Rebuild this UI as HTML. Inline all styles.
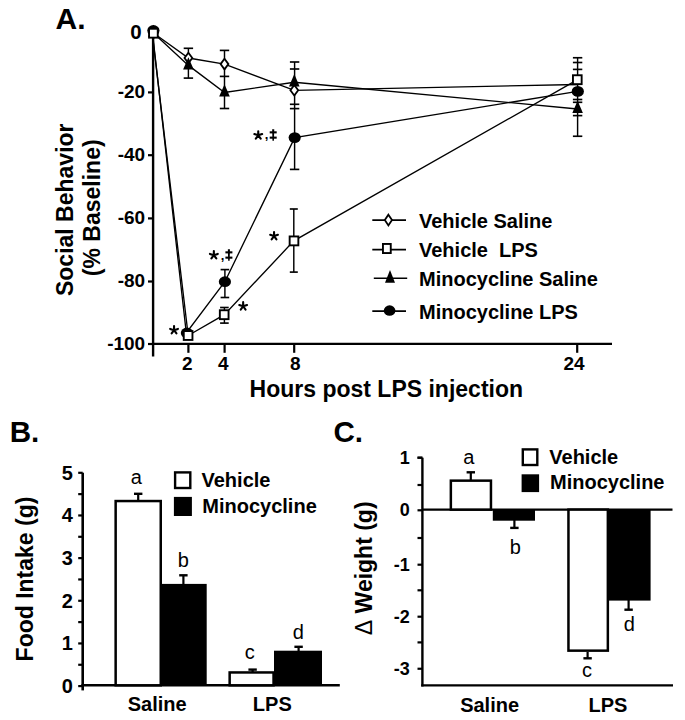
<!DOCTYPE html>
<html><head><meta charset="utf-8"><style>
html,body{margin:0;padding:0;background:#fff;}
svg{display:block;}
text{font-family:"Liberation Sans",sans-serif;fill:#000;}
</style></head><body>
<svg width="685" height="720" viewBox="0 0 685 720" stroke="#000" fill="#000">
<rect x="0" y="0" width="685" height="720" fill="#fff" stroke="none"/>
<g stroke="#000">
<text stroke="none" x="55.5" y="29" font-size="30" font-weight="bold" text-anchor="start" >A.</text>
<line x1="153.1" y1="30" x2="153.1" y2="356.5" stroke-width="2.4"/>
<line x1="151.9" y1="343.8" x2="612" y2="343.8" stroke-width="2.2"/>
<line x1="148" y1="92.4" x2="153.1" y2="92.4" stroke-width="2.2"/>
<text stroke="none" x="145.2" y="98.0" font-size="19" font-weight="bold" text-anchor="end" >-20</text>
<line x1="148" y1="155.2" x2="153.1" y2="155.2" stroke-width="2.2"/>
<text stroke="none" x="145.2" y="160.79999999999998" font-size="19" font-weight="bold" text-anchor="end" >-40</text>
<line x1="148" y1="218.4" x2="153.1" y2="218.4" stroke-width="2.2"/>
<text stroke="none" x="145.2" y="224.0" font-size="19" font-weight="bold" text-anchor="end" >-60</text>
<line x1="148" y1="281.5" x2="153.1" y2="281.5" stroke-width="2.2"/>
<text stroke="none" x="145.2" y="287.1" font-size="19" font-weight="bold" text-anchor="end" >-80</text>
<line x1="148" y1="344" x2="153.1" y2="344" stroke-width="2.2"/>
<text stroke="none" x="145.2" y="349.6" font-size="19" font-weight="bold" text-anchor="end" >-100</text>
<text stroke="none" x="141.6" y="39.2" font-size="20.5" font-weight="bold" text-anchor="end" >0</text>
<line x1="188.4" y1="343.8" x2="188.4" y2="352.8" stroke-width="2.2"/>
<text stroke="none" x="187.4" y="370.4" font-size="19" font-weight="bold" text-anchor="middle" >2</text>
<line x1="224.6" y1="343.8" x2="224.6" y2="352.8" stroke-width="2.2"/>
<text stroke="none" x="223.3" y="370.4" font-size="19" font-weight="bold" text-anchor="middle" >4</text>
<line x1="294.2" y1="343.8" x2="294.2" y2="352.8" stroke-width="2.2"/>
<text stroke="none" x="295.2" y="370.4" font-size="19" font-weight="bold" text-anchor="middle" >8</text>
<line x1="577.2" y1="343.8" x2="577.2" y2="352.8" stroke-width="2.2"/>
<text stroke="none" x="574.0" y="370.4" font-size="19" font-weight="bold" text-anchor="middle" >24</text>
<text stroke="none" x="386.3" y="396.7" font-size="23" font-weight="bold" text-anchor="middle" >Hours post LPS injection</text>
<text stroke="none" transform="translate(72.6,209.75) rotate(-90)" font-size="23" font-weight="bold" text-anchor="middle">Social Behavior</text>
<text stroke="none" transform="translate(99.8,207.8) rotate(-90)" font-size="23" font-weight="bold" text-anchor="middle">(% Baseline)</text>
<line x1="188.4" y1="48.3" x2="188.4" y2="78.1" stroke-width="1.45"/>
<line x1="183.70000000000002" y1="48.3" x2="193.1" y2="48.3" stroke-width="1.65"/>
<line x1="183.70000000000002" y1="78.1" x2="193.1" y2="78.1" stroke-width="1.65"/>
<line x1="224.5" y1="50.4" x2="224.5" y2="108.5" stroke-width="1.45"/>
<line x1="219.8" y1="50.4" x2="229.2" y2="50.4" stroke-width="1.65"/>
<line x1="219.8" y1="76.4" x2="229.2" y2="76.4" stroke-width="1.65"/>
<line x1="219.8" y1="108.5" x2="229.2" y2="108.5" stroke-width="1.65"/>
<line x1="224.9" y1="269.6" x2="224.9" y2="297.5" stroke-width="1.45"/>
<line x1="220.6" y1="269.6" x2="229.20000000000002" y2="269.6" stroke-width="1.65"/>
<line x1="220.6" y1="297.5" x2="229.20000000000002" y2="297.5" stroke-width="1.65"/>
<line x1="224.4" y1="307.5" x2="224.4" y2="323.1" stroke-width="1.45"/>
<line x1="220.1" y1="307.5" x2="228.70000000000002" y2="307.5" stroke-width="1.65"/>
<line x1="220.1" y1="323.1" x2="228.70000000000002" y2="323.1" stroke-width="1.65"/>
<line x1="294.6" y1="62" x2="294.6" y2="169.4" stroke-width="1.45"/>
<line x1="289.90000000000003" y1="62" x2="299.3" y2="62" stroke-width="1.65"/>
<line x1="289.90000000000003" y1="69" x2="299.3" y2="69" stroke-width="1.65"/>
<line x1="289.90000000000003" y1="104.3" x2="299.3" y2="104.3" stroke-width="1.65"/>
<line x1="289.90000000000003" y1="108.6" x2="299.3" y2="108.6" stroke-width="1.65"/>
<line x1="289.90000000000003" y1="169.4" x2="299.3" y2="169.4" stroke-width="1.65"/>
<line x1="293.8" y1="209" x2="293.8" y2="272.1" stroke-width="1.45"/>
<line x1="289.8" y1="209" x2="297.8" y2="209" stroke-width="1.65"/>
<line x1="289.8" y1="272.1" x2="297.8" y2="272.1" stroke-width="1.65"/>
<line x1="577.6" y1="57.75" x2="577.6" y2="136.25" stroke-width="1.45"/>
<line x1="572.9" y1="57.75" x2="582.3000000000001" y2="57.75" stroke-width="1.65"/>
<line x1="572.9" y1="62.5" x2="582.3000000000001" y2="62.5" stroke-width="1.65"/>
<line x1="572.9" y1="69.4" x2="582.3000000000001" y2="69.4" stroke-width="1.65"/>
<line x1="572.9" y1="99.5" x2="582.3000000000001" y2="99.5" stroke-width="1.65"/>
<line x1="572.9" y1="102.3" x2="582.3000000000001" y2="102.3" stroke-width="1.65"/>
<line x1="572.9" y1="115.6" x2="582.3000000000001" y2="115.6" stroke-width="1.65"/>
<line x1="572.9" y1="136.25" x2="582.3000000000001" y2="136.25" stroke-width="1.65"/>
<polyline points="153.4,33 188.4,58 224.5,64.1 294.3,90.3 577.6,84.5" fill="none" stroke-width="1.35"/>
<polyline points="152.2,33.2 188.2,335.5 224.4,314.7 293.8,240.9 577.6,79.7" fill="none" stroke-width="1.35"/>
<polyline points="153.4,33 188.4,65.4 224.5,92.5 294.3,82.3 577.6,109" fill="none" stroke-width="1.35"/>
<polyline points="152.2,30.5 186.3,333 224.9,281.7 294.7,137.6 577.6,91.4" fill="none" stroke-width="1.35"/>
<ellipse cx="153.4" cy="30.5" rx="6.1" ry="5.4" stroke="none"/>
<ellipse cx="186.9" cy="333" rx="6.1" ry="5.4" stroke="none"/>
<ellipse cx="224.9" cy="281.7" rx="6.1" ry="5.4" stroke="none"/>
<ellipse cx="294.7" cy="137.6" rx="6.1" ry="5.4" stroke="none"/>
<ellipse cx="577.8" cy="91.4" rx="6.1" ry="5.4" stroke="none"/>
<polygon points="153.4,27.7 157.3,33 153.4,38.3 149.5,33" fill="#fff" stroke-width="1.8"/>
<polygon points="188.4,52.7 192.3,58 188.4,63.3 184.5,58" fill="#fff" stroke-width="1.8"/>
<polygon points="224.5,58.8 228.4,64.1 224.5,69.39999999999999 220.6,64.1" fill="#fff" stroke-width="1.8"/>
<polygon points="294.3,85.0 298.2,90.3 294.3,95.6 290.40000000000003,90.3" fill="#fff" stroke-width="1.8"/>
<polygon points="153.4,24.80 158.70000000000002,37.10 148.1,37.10" stroke="none"/>
<polygon points="188.4,57.20 193.70000000000002,69.50 183.1,69.50" stroke="none"/>
<polygon points="224.5,84.30 229.8,96.60 219.2,96.60" stroke="none"/>
<polygon points="294.3,74.10 299.6,86.40 289.0,86.40" stroke="none"/>
<polygon points="577.6,100.80 582.9,113.10 572.3000000000001,113.10" stroke="none"/>
<rect x="149.05" y="28.750000000000004" width="8.7" height="8.9" fill="#fff" stroke-width="1.9"/>
<rect x="183.75" y="331.05" width="8.7" height="8.9" fill="#fff" stroke-width="1.9"/>
<rect x="219.85" y="310.25" width="8.7" height="8.9" fill="#fff" stroke-width="1.9"/>
<rect x="289.65" y="236.45000000000002" width="8.7" height="8.9" fill="#fff" stroke-width="1.9"/>
<rect x="572.95" y="75.25" width="8.7" height="8.9" fill="#fff" stroke-width="1.9"/>
<path d="M174.05,330.15L174.05,326.05M174.05,330.15L177.95,328.88M174.05,330.15L176.46,333.47M174.05,330.15L171.64,333.47M174.05,330.15L170.15,328.88" stroke-width="2.1" stroke-linecap="round" fill="none"/>
<path d="M243.15,306.25L243.15,302.15M243.15,306.25L247.05,304.98M243.15,306.25L245.56,309.57M243.15,306.25L240.74,309.57M243.15,306.25L239.25,304.98" stroke-width="2.1" stroke-linecap="round" fill="none"/>
<path d="M274.05,236.05L274.05,231.95M274.05,236.05L277.95,234.78M274.05,236.05L276.46,239.37M274.05,236.05L271.64,239.37M274.05,236.05L270.15,234.78" stroke-width="2.1" stroke-linecap="round" fill="none"/>
<path d="M213.85,255.15L213.85,251.05M213.85,255.15L217.75,253.88M213.85,255.15L216.26,258.47M213.85,255.15L211.44,258.47M213.85,255.15L209.95,253.88" stroke-width="2.1" stroke-linecap="round" fill="none"/>
<text stroke="none" x="220.70" y="259.70" font-size="13" font-weight="bold">,</text>
<path d="M227.85,249.2 h2.1 l-0.3,11.6 h-1.5 z" stroke="none"/>
<rect x="225.4" y="251.29999999999998" width="7" height="2.1" stroke="none"/>
<rect x="225.4" y="256.59999999999997" width="7" height="2.1" stroke="none"/>
<path d="M258.25,135.35L258.25,131.25M258.25,135.35L262.15,134.08M258.25,135.35L260.66,138.67M258.25,135.35L255.84,138.67M258.25,135.35L254.35,134.08" stroke-width="2.1" stroke-linecap="round" fill="none"/>
<text stroke="none" x="264.80" y="138.80" font-size="13" font-weight="bold">,</text>
<path d="M272.15,129.2 h2.1 l-0.3,11.6 h-1.5 z" stroke="none"/>
<rect x="269.7" y="131.29999999999998" width="7" height="2.1" stroke="none"/>
<rect x="269.7" y="136.6" width="7" height="2.1" stroke="none"/>
<line x1="372.3" y1="220.1" x2="406" y2="220.1" stroke-width="1.6"/>
<polygon points="388.4,214.7 392.0,220.1 388.4,225.5 384.79999999999995,220.1" fill="#fff" stroke-width="1.8"/>
<text stroke="none" x="419.0" y="227.7" font-size="20" font-weight="bold" text-anchor="start" >Vehicle Saline</text>
<line x1="372.3" y1="249.6" x2="406" y2="249.6" stroke-width="1.6"/>
<rect x="382.95000000000005" y="243.95" width="7.8" height="9.1" fill="#fff" stroke-width="1.9"/>
<text stroke="none" x="419.0" y="256.9" font-size="20" font-weight="bold" text-anchor="start" >Vehicle&#160; LPS</text>
<line x1="373.8" y1="278.2" x2="407.2" y2="278.2" stroke-width="1.6"/>
<polygon points="390,269.93 395.0,282.63 385.0,282.63" stroke="none"/>
<text stroke="none" x="419.0" y="286.0" font-size="20" font-weight="bold" text-anchor="start" >Minocycline Saline</text>
<line x1="372.3" y1="311.1" x2="406" y2="311.1" stroke-width="1.6"/>
<ellipse cx="389.6" cy="310.6" rx="5.85" ry="5.25" stroke="none"/>
<text stroke="none" x="419.0" y="319.1" font-size="20" font-weight="bold" text-anchor="start" >Minocycline LPS</text>
<text stroke="none" x="9.7" y="442.3" font-size="29.6" font-weight="bold" text-anchor="start" >B.</text>
<line x1="82.7" y1="472.7" x2="82.7" y2="690.4" stroke-width="2.6"/>
<line x1="81.4" y1="685.3" x2="339.8" y2="685.3" stroke-width="2.4"/>
<line x1="78.2" y1="686.1" x2="82.7" y2="686.1" stroke-width="2.2"/>
<text stroke="none" x="72.8" y="693.0" font-size="20" font-weight="bold" text-anchor="end" >0</text>
<line x1="78.2" y1="664.77" x2="82.7" y2="664.77" stroke-width="2.2"/>
<line x1="78.2" y1="643.44" x2="82.7" y2="643.44" stroke-width="2.2"/>
<text stroke="none" x="72.8" y="650.34" font-size="20" font-weight="bold" text-anchor="end" >1</text>
<line x1="78.2" y1="622.11" x2="82.7" y2="622.11" stroke-width="2.2"/>
<line x1="78.2" y1="600.78" x2="82.7" y2="600.78" stroke-width="2.2"/>
<text stroke="none" x="72.8" y="607.68" font-size="20" font-weight="bold" text-anchor="end" >2</text>
<line x1="78.2" y1="579.45" x2="82.7" y2="579.45" stroke-width="2.2"/>
<line x1="78.2" y1="558.12" x2="82.7" y2="558.12" stroke-width="2.2"/>
<text stroke="none" x="72.8" y="565.02" font-size="20" font-weight="bold" text-anchor="end" >3</text>
<line x1="78.2" y1="536.79" x2="82.7" y2="536.79" stroke-width="2.2"/>
<line x1="78.2" y1="515.46" x2="82.7" y2="515.46" stroke-width="2.2"/>
<text stroke="none" x="72.8" y="522.36" font-size="20" font-weight="bold" text-anchor="end" >4</text>
<line x1="78.2" y1="494.13000000000005" x2="82.7" y2="494.13000000000005" stroke-width="2.2"/>
<line x1="78.2" y1="472.80000000000007" x2="82.7" y2="472.80000000000007" stroke-width="2.2"/>
<text stroke="none" x="72.8" y="479.70000000000005" font-size="20" font-weight="bold" text-anchor="end" >5</text>
<text stroke="none" transform="translate(33.0,579.0) rotate(-90)" font-size="23" font-weight="bold" text-anchor="middle">Food Intake (g)</text>
<line x1="138.2" y1="493.8" x2="138.2" y2="501" stroke-width="2.2"/>
<line x1="134.0" y1="493.8" x2="142.39999999999998" y2="493.8" stroke-width="2.4"/>
<rect x="115.65" y="501.05" width="45.099999999999994" height="184.24999999999994" fill="#fff" stroke-width="2.5"/>
<line x1="183.4" y1="575.3" x2="183.4" y2="584.5" stroke-width="2.2"/>
<line x1="179.20000000000002" y1="575.3" x2="187.6" y2="575.3" stroke-width="2.4"/>
<rect x="160.5" y="583.9" width="46.19999999999999" height="101.39999999999998" stroke="none"/>
<line x1="252.6" y1="669.6" x2="252.6" y2="672" stroke-width="2.2"/>
<line x1="248.4" y1="669.6" x2="256.8" y2="669.6" stroke-width="2.4"/>
<rect x="229.65" y="672.45" width="43.900000000000006" height="12.849999999999909" fill="#fff" stroke-width="2.5"/>
<line x1="298.6" y1="646.8" x2="298.6" y2="651" stroke-width="2.2"/>
<line x1="294.40000000000003" y1="646.8" x2="302.8" y2="646.8" stroke-width="2.4"/>
<rect x="274.0" y="650.7" width="48.0" height="34.59999999999991" stroke="none"/>
<text stroke="none" x="130.75" y="483.85" font-size="20" font-weight="normal">a</text>
<text stroke="none" x="177.85" y="567.30" font-size="20" font-weight="normal">b</text>
<text stroke="none" x="244.65" y="658.75" font-size="20" font-weight="normal">c</text>
<text stroke="none" x="292.85" y="638.50" font-size="20" font-weight="normal">d</text>
<rect x="175.1" y="472.4" width="15.2" height="15.6" fill="#fff" stroke-width="2.4"/>
<rect x="173.9" y="496.9" width="18" height="19.1" stroke="none"/>
<text stroke="none" x="201.5" y="487.3" font-size="20" font-weight="bold" text-anchor="start" >Vehicle</text>
<text stroke="none" x="202.3" y="512.6" font-size="20" font-weight="bold" text-anchor="start" >Minocycline</text>
<text stroke="none" x="157.2" y="711.0" font-size="20" font-weight="bold" text-anchor="middle" >Saline</text>
<text stroke="none" x="272.3" y="711.0" font-size="20" font-weight="bold" text-anchor="middle" >LPS</text>
<text stroke="none" x="333.5" y="442.3" font-size="29.6" font-weight="bold" text-anchor="start" >C.</text>
<line x1="422.4" y1="457.7" x2="422.4" y2="686.5" stroke-width="2.4"/>
<line x1="417.5" y1="457.7" x2="422.4" y2="457.7" stroke-width="2.2"/>
<line x1="421.2" y1="685.4" x2="673" y2="685.4" stroke-width="2.4"/>
<line x1="422.4" y1="509.6" x2="672.5" y2="509.6" stroke-width="2.4"/>
<line x1="417.5" y1="457.7" x2="422.4" y2="457.7" stroke-width="2.2"/>
<text stroke="none" x="409.8" y="463.7" font-size="18" font-weight="bold" text-anchor="end" >1</text>
<line x1="417.5" y1="485.0" x2="422.4" y2="485.0" stroke-width="2.2"/>
<line x1="417.5" y1="510.3" x2="422.4" y2="510.3" stroke-width="2.2"/>
<text stroke="none" x="409.8" y="516.3" font-size="18" font-weight="bold" text-anchor="end" >0</text>
<line x1="417.5" y1="538.0" x2="422.4" y2="538.0" stroke-width="2.2"/>
<line x1="417.5" y1="564.7" x2="422.4" y2="564.7" stroke-width="2.2"/>
<text stroke="none" x="409.8" y="570.7" font-size="18" font-weight="bold" text-anchor="end" >-1</text>
<line x1="417.5" y1="590.3" x2="422.4" y2="590.3" stroke-width="2.2"/>
<line x1="417.5" y1="616.7" x2="422.4" y2="616.7" stroke-width="2.2"/>
<text stroke="none" x="409.8" y="622.7" font-size="18" font-weight="bold" text-anchor="end" >-2</text>
<line x1="417.5" y1="642.4" x2="422.4" y2="642.4" stroke-width="2.2"/>
<line x1="417.5" y1="668.75" x2="422.4" y2="668.75" stroke-width="2.2"/>
<text stroke="none" x="409.8" y="674.75" font-size="18" font-weight="bold" text-anchor="end" >-3</text>
<text stroke="none" transform="translate(372.0,568.3) rotate(-90)" font-size="23" font-weight="bold" text-anchor="middle"><tspan font-weight="normal">&#916;</tspan> Weight (g)</text>
<line x1="470.8" y1="472.3" x2="470.8" y2="480" stroke-width="2.2"/>
<line x1="466.6" y1="472.3" x2="475.0" y2="472.3" stroke-width="2.4"/>
<rect x="450.85" y="480.65" width="40.099999999999966" height="28.950000000000045" fill="#fff" stroke-width="2.5"/>
<rect x="492.8" y="509.6" width="42.2" height="11.1" stroke="none"/>
<line x1="514.4" y1="520" x2="514.4" y2="527.9" stroke-width="2.2"/>
<line x1="510.2" y1="527.9" x2="518.6" y2="527.9" stroke-width="2.4"/>
<rect x="568.45" y="509.6" width="39.4" height="141.04999999999995" fill="#fff" stroke-width="2.5"/>
<line x1="587.6" y1="652" x2="587.6" y2="658.3" stroke-width="2.2"/>
<line x1="583.4" y1="658.3" x2="591.8" y2="658.3" stroke-width="2.4"/>
<rect x="607.5" y="509.6" width="43.1" height="91.0" stroke="none"/>
<line x1="628.6" y1="600" x2="628.6" y2="609.7" stroke-width="2.2"/>
<line x1="624.4" y1="609.7" x2="632.8" y2="609.7" stroke-width="2.4"/>
<text stroke="none" x="463.15" y="464.05" font-size="20" font-weight="normal">a</text>
<text stroke="none" x="509.75" y="554.00" font-size="20" font-weight="normal">b</text>
<text stroke="none" x="582.05" y="676.75" font-size="20" font-weight="normal">c</text>
<text stroke="none" x="623.65" y="631.20" font-size="20" font-weight="normal">d</text>
<rect x="522.8" y="449.4" width="14.5" height="15.6" fill="#fff" stroke-width="2.4"/>
<rect x="521.6" y="474.3" width="17.5" height="17.8" stroke="none"/>
<text stroke="none" x="549.3" y="463.7" font-size="20" font-weight="bold" text-anchor="start" >Vehicle</text>
<text stroke="none" x="550.0" y="489.1" font-size="20" font-weight="bold" text-anchor="start" >Minocycline</text>
<text stroke="none" x="489.6" y="711.8" font-size="20" font-weight="bold" text-anchor="middle" >Saline</text>
<text stroke="none" x="608.0" y="711.8" font-size="20" font-weight="bold" text-anchor="middle" >LPS</text>
</g>
</svg>
</body></html>
